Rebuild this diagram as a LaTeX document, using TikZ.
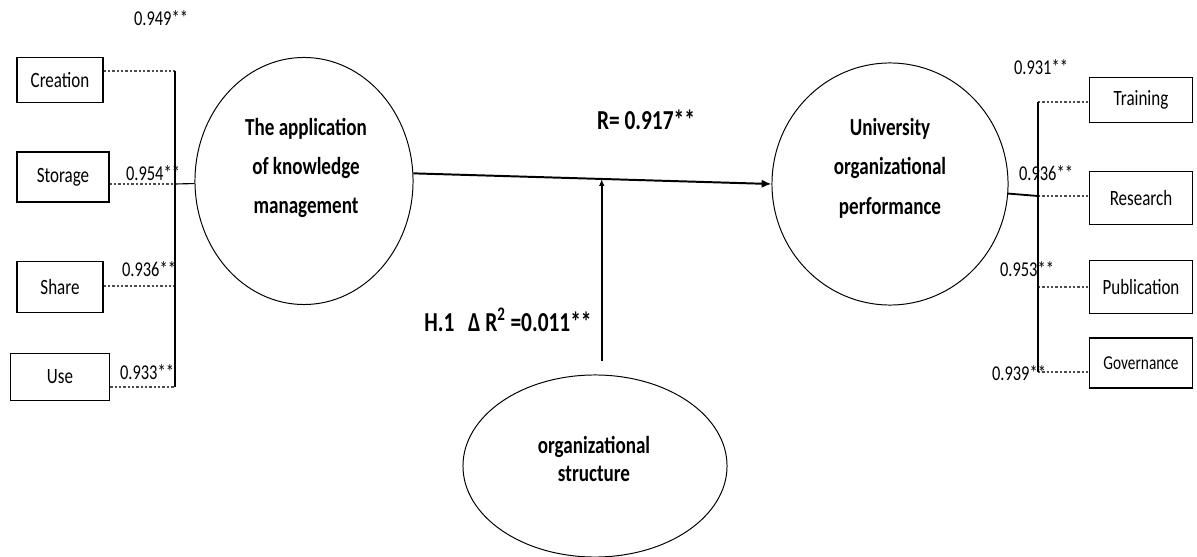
\documentclass[tikz,border=0pt]{standalone}
\usepackage{fontspec}
\setmainfont[FakeStretch=0.78]{Carlito}
\usepackage{tikz}
\usetikzlibrary{positioning,arrows.meta,shapes.geometric,calc}

\begin{document}
\begin{tikzpicture}[
  x=0.025cm, y=-0.025cm,
  indicator/.style={draw, line width=0.9pt, inner sep=0pt, minimum width=2.575cm, minimum height=1.25cm, font=\fontsize{15.5}{18}\selectfont},
  latent/.style={draw, ellipse, line width=0.7pt, inner sep=0pt},
  latentlabel/.style={align=center, font=\fontsize{17.4}{28}\selectfont\bfseries},
  coef/.style={font=\fontsize{15}{18}\selectfont},
  pathlabel/.style={font=\fontsize{19.5}{22}\selectfont\bfseries},
  dotline/.style={line width=1.2pt, gray!60!black, dash pattern=on 1.7pt off 1.4pt},
  bus/.style={line width=0.8pt},
  arrow/.style={-{Latex[length=7pt,width=6pt]}, line width=1.4pt},
  modarrow/.style={-{Latex[length=5pt,width=4pt]}, line width=1.2pt}
]
\useasboundingbox (0,0) rectangle (1197,557);

\node[latent, minimum width=5.45cm, minimum height=6.175cm] (kmc) at (304,181) {};
\node[latent, minimum width=5.9cm, minimum height=6.05cm] (uop) at (890,184) {};
\node[latent, minimum width=6.6cm, minimum height=4.55cm] (os) at (595,466) {};
\node[latentlabel] (kmctext) at (306,168) {The application\\of knowledge\\management};
\node[latentlabel] (uoptext) at (890,168) {University\\organizational\\performance};
\node[latentlabel, font=\fontsize{17.4}{20}\selectfont\bfseries] (ostext) at (594,459) {organizational\\structure};

\node[indicator, minimum width=2.15cm, minimum height=1.125cm] (creation) at (60,80) {Creation};
\node[indicator, minimum width=2.3cm] (storage) at (63,177) {Storage};
\node[indicator, minimum width=2.15cm, minimum height=1.275cm] (share) at (60,287) {Share};
\node[indicator, minimum width=2.475cm, minimum height=1.175cm] (use) at (60,377) {Use};

\node[indicator, minimum height=1.125cm] (training) at (1141,100) {Training};
\node[indicator, minimum height=1.325cm] (research) at (1141,198) {Research};
\node[indicator, minimum height=1.325cm] (publication) at (1141,287) {Publication};
\node[indicator, font=\fontsize{14}{16}\selectfont] (governance) at (1141,363) {Governance};

\coordinate (lb1) at (175,71);
\coordinate (lb2) at (175,184);
\coordinate (lb3) at (175,286);
\coordinate (lb4) at (175,387);
\coordinate (rb1) at (1038,102);
\coordinate (rb2) at (1038,196);
\coordinate (rb3) at (1038,287);
\coordinate (rb4) at (1038,372);

\draw[dotline] (creation.east |- lb1) -- (lb1);
\draw[dotline] (storage.east |- lb2) -- (lb2);
\draw[dotline] (share.east |- lb3) -- (lb3);
\draw[dotline] (use.east |- lb4) -- (lb4);
\draw[bus] (lb1) -- (lb4);
\draw[bus] (lb2) -- (kmc);

\draw[dotline] (rb1) -- (training.west |- rb1);
\draw[dotline] (rb2) -- (research.west |- rb2);
\draw[dotline] (rb3) -- (publication.west |- rb3);
\draw[dotline] (rb4) -- (governance.west |- rb4);
\draw[bus] (rb1) -- (rb4);
\draw[bus, line width=1.3pt] (uop) -- (rb2);

\draw[arrow] (kmc.4) -- (uop.west);
\coordinate (mod) at ($(kmc.4)!0.526!(uop.west)$);
\draw[modarrow, shorten <=0.33cm] (mod |- os.north) -- (mod);

\node[coef] (lv1) at (161,18) {0.949**};
\node[coef] (lv2) at (153,173) {0.954**};
\node[coef] (lv3) at (149,269) {0.936**};
\node[coef] (lv4) at (147,372) {0.933**};
\node[coef] (rv1) at (1041,67) {0.931**};
\node[coef] (rv2) at (1046,173) {0.936**};
\node[coef] (rv3) at (1027,269) {0.953**};
\node[coef] (rv4) at (1019,373) {0.939**};

\node[pathlabel] (rval) at (646,120) {R= 0.917**};
\node[pathlabel] (dr2) at (508,320) {H.1\enspace Δ R\textsuperscript{2} =0.011**};
\end{tikzpicture}
\end{document}
